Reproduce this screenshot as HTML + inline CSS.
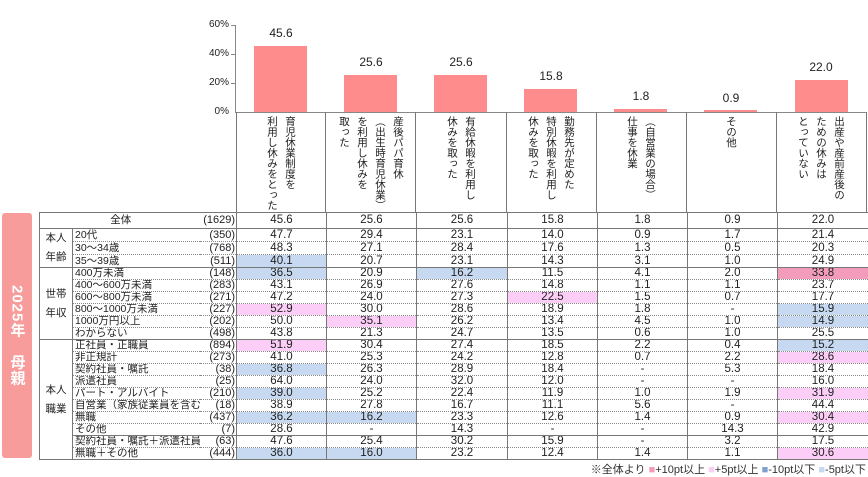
<!DOCTYPE html>
<html><head><meta charset="utf-8">
<style>
body{margin:0;width:868px;height:477px;background:#fff;position:relative;overflow:hidden;font-family:"Liberation Sans","Noto Sans CJK JP",sans-serif;color:#222}
.abs{position:absolute}
.bar{position:absolute;background:#ff8c8c;width:53px}
.val{position:absolute;width:90px;text-align:center;font-size:12px}
.yl{position:absolute;left:195px;width:34px;text-align:right;font-size:10px}
.hd{position:absolute;top:116px;height:96px;width:90px;display:flex;justify-content:center}
.hd div{writing-mode:vertical-rl;font-size:10.5px;line-height:18px;letter-spacing:0;height:96px;white-space:nowrap}
table{position:absolute;left:39px;top:212px;width:829px;height:247px;border-collapse:collapse;table-layout:fixed}
td{padding:0;font-size:11.5px;line-height:11px;border-left:1px solid #777;border-right:1px solid #777;border-top:1px dotted #888;white-space:nowrap;overflow:hidden}
td.n{text-align:center}
td.l{font-size:10.5px;padding-left:2px;border-right:none}
td.c{font-size:11px;text-align:right;border-left:none;padding-right:1px}
td.g{font-size:10.5px;text-align:center;line-height:19px;border-top:1px solid #777}
tr.s td{border-top:1px solid #777}
table{border:1px solid #777}
.p{background:#f29bbb}.q{background:#fccdf6}.b{background:#c6d9f0}
</style></head><body>
<div class="abs" style="left:235px;top:25px;width:1px;height:88px;background:#888"></div>
<div class="abs" style="left:231px;top:25px;width:4px;height:1px;background:#888"></div>
<div class="abs" style="left:231px;top:54px;width:4px;height:1px;background:#888"></div>
<div class="abs" style="left:231px;top:83px;width:4px;height:1px;background:#888"></div>
<div class="abs" style="left:235px;top:112px;width:632px;height:1px;background:#888"></div>
<div class="yl" style="top:19px">60%</div>
<div class="yl" style="top:48px">40%</div>
<div class="yl" style="top:77px">20%</div>
<div class="yl" style="top:106px">0%</div>
<div class="bar" style="left:254px;top:46px;height:66px"></div>
<div class="bar" style="left:344px;top:75px;height:37px"></div>
<div class="bar" style="left:434px;top:75px;height:37px"></div>
<div class="bar" style="left:524px;top:89px;height:23px"></div>
<div class="bar" style="left:614px;top:109px;height:3px"></div>
<div class="bar" style="left:704px;top:110px;height:2px"></div>
<div class="bar" style="left:795px;top:80px;height:32px"></div>
<div class="val" style="left:236px;top:26px">45.6</div>
<div class="val" style="left:326px;top:55px">25.6</div>
<div class="val" style="left:416px;top:55px">25.6</div>
<div class="val" style="left:506px;top:69px">15.8</div>
<div class="val" style="left:596px;top:89px">1.8</div>
<div class="val" style="left:686px;top:91px">0.9</div>
<div class="val" style="left:776px;top:60px">22.0</div>
<div class="abs" style="left:236px;top:112px;width:1px;height:100px;background:#777"></div>
<div class="abs" style="left:325px;top:112px;width:1px;height:100px;background:#777"></div>
<div class="abs" style="left:415px;top:112px;width:1px;height:100px;background:#777"></div>
<div class="abs" style="left:506px;top:112px;width:1px;height:100px;background:#777"></div>
<div class="abs" style="left:596px;top:112px;width:1px;height:100px;background:#777"></div>
<div class="abs" style="left:686px;top:112px;width:1px;height:100px;background:#777"></div>
<div class="abs" style="left:776px;top:112px;width:1px;height:100px;background:#777"></div>
<div class="abs" style="left:866px;top:112px;width:1px;height:100px;background:#777"></div>
<div class="hd" style="left:236px"><div>育児休業制度を<br>利用し休みをとった</div></div>
<div class="hd" style="left:326px"><div>産後パパ育休<br>（出生時育児休業）<br>を利用し休みを<br>取った</div></div>
<div class="hd" style="left:416px"><div>有給休暇を利用し<br>休みを取った</div></div>
<div class="hd" style="left:506px"><div>勤務先が定めた<br>特別休暇を利用し<br>休みを取った</div></div>
<div class="hd" style="left:596px"><div>（自営業の場合）<br>仕事を休業</div></div>
<div class="hd" style="left:686px"><div>その他</div></div>
<div class="hd" style="left:776px"><div>出産や産前産後の<br>ための休みは<br>とっていない</div></div>
<div class="abs" style="left:2px;top:213px;width:30px;height:245px;background:#f79b9b;border-radius:3px;display:flex;align-items:center;justify-content:center"><div style="writing-mode:vertical-rl;color:#fff;font-weight:bold;font-size:15px;letter-spacing:1px">2025年　母親</div></div>
<table>
<colgroup><col style="width:33px"><col style="width:127px"><col style="width:37px"><col style="width:90px"><col style="width:90px"><col style="width:91px"><col style="width:90px"><col style="width:90px"><col style="width:90px"><col style="width:91px"></colgroup>
<tr style="height:16px"><td colspan="2" class="l" style="text-align:center;border-left:1px solid #777">全体</td><td class="c">(1629)</td><td class="n">45.6</td><td class="n">25.6</td><td class="n">25.6</td><td class="n">15.8</td><td class="n">1.8</td><td class="n">0.9</td><td class="n">22.0</td></tr>
<tr class="s"><td class="g" rowspan="3">本人<br>年齢</td><td class="l">20代</td><td class="c">(350)</td><td class="n">47.7</td><td class="n">29.4</td><td class="n">23.1</td><td class="n">14.0</td><td class="n">0.9</td><td class="n">1.7</td><td class="n">21.4</td></tr>
<tr><td class="l">30～34歳</td><td class="c">(768)</td><td class="n">48.3</td><td class="n">27.1</td><td class="n">28.4</td><td class="n">17.6</td><td class="n">1.3</td><td class="n">0.5</td><td class="n">20.3</td></tr>
<tr><td class="l">35～39歳</td><td class="c">(511)</td><td class="n b">40.1</td><td class="n">20.7</td><td class="n">23.1</td><td class="n">14.3</td><td class="n">3.1</td><td class="n">1.0</td><td class="n">24.9</td></tr>
<tr class="s"><td class="g" rowspan="6">世帯<br>年収</td><td class="l">400万未満</td><td class="c">(148)</td><td class="n b">36.5</td><td class="n">20.9</td><td class="n b">16.2</td><td class="n">11.5</td><td class="n">4.1</td><td class="n">2.0</td><td class="n p">33.8</td></tr>
<tr><td class="l">400～600万未満</td><td class="c">(283)</td><td class="n">43.1</td><td class="n">26.9</td><td class="n">27.6</td><td class="n">14.8</td><td class="n">1.1</td><td class="n">1.1</td><td class="n">23.7</td></tr>
<tr><td class="l">600～800万未満</td><td class="c">(271)</td><td class="n">47.2</td><td class="n">24.0</td><td class="n">27.3</td><td class="n q">22.5</td><td class="n">1.5</td><td class="n">0.7</td><td class="n">17.7</td></tr>
<tr><td class="l">800～1000万未満</td><td class="c">(227)</td><td class="n q">52.9</td><td class="n">30.0</td><td class="n">28.6</td><td class="n">18.9</td><td class="n">1.8</td><td class="n">-</td><td class="n b">15.9</td></tr>
<tr><td class="l">1000万円以上</td><td class="c">(202)</td><td class="n">50.0</td><td class="n q">35.1</td><td class="n">26.2</td><td class="n">13.4</td><td class="n">4.5</td><td class="n">1.0</td><td class="n b">14.9</td></tr>
<tr><td class="l">わからない</td><td class="c">(498)</td><td class="n">43.8</td><td class="n">21.3</td><td class="n">24.7</td><td class="n">13.5</td><td class="n">0.6</td><td class="n">1.0</td><td class="n">25.5</td></tr>
<tr class="s"><td class="g" rowspan="10">本人<br>職業</td><td class="l">正社員・正職員</td><td class="c">(894)</td><td class="n q">51.9</td><td class="n">30.4</td><td class="n">27.4</td><td class="n">18.5</td><td class="n">2.2</td><td class="n">0.4</td><td class="n b">15.2</td></tr>
<tr><td class="l">非正規計</td><td class="c">(273)</td><td class="n">41.0</td><td class="n">25.3</td><td class="n">24.2</td><td class="n">12.8</td><td class="n">0.7</td><td class="n">2.2</td><td class="n q">28.6</td></tr>
<tr><td class="l">契約社員・嘱託</td><td class="c">(38)</td><td class="n b">36.8</td><td class="n">26.3</td><td class="n">28.9</td><td class="n">18.4</td><td class="n">-</td><td class="n">5.3</td><td class="n">18.4</td></tr>
<tr><td class="l">派遣社員</td><td class="c">(25)</td><td class="n">64.0</td><td class="n">24.0</td><td class="n">32.0</td><td class="n">12.0</td><td class="n">-</td><td class="n">-</td><td class="n">16.0</td></tr>
<tr><td class="l">パート・アルバイト</td><td class="c">(210)</td><td class="n b">39.0</td><td class="n">25.2</td><td class="n">22.4</td><td class="n">11.9</td><td class="n">1.0</td><td class="n">1.9</td><td class="n q">31.9</td></tr>
<tr><td class="l">自営業（家族従業員を含む）</td><td class="c">(18)</td><td class="n">38.9</td><td class="n">27.8</td><td class="n">16.7</td><td class="n">11.1</td><td class="n">5.6</td><td class="n">-</td><td class="n">44.4</td></tr>
<tr><td class="l">無職</td><td class="c">(437)</td><td class="n b">36.2</td><td class="n b">16.2</td><td class="n">23.3</td><td class="n">12.6</td><td class="n">1.4</td><td class="n">0.9</td><td class="n q">30.4</td></tr>
<tr><td class="l">その他</td><td class="c">(7)</td><td class="n">28.6</td><td class="n">-</td><td class="n">14.3</td><td class="n">-</td><td class="n">-</td><td class="n">14.3</td><td class="n">42.9</td></tr>
<tr class="s"><td class="l">契約社員・嘱託＋派遣社員</td><td class="c">(63)</td><td class="n">47.6</td><td class="n">25.4</td><td class="n">30.2</td><td class="n">15.9</td><td class="n">-</td><td class="n">3.2</td><td class="n">17.5</td></tr>
<tr><td class="l">無職＋その他</td><td class="c">(444)</td><td class="n b">36.0</td><td class="n b">16.0</td><td class="n">23.2</td><td class="n">12.4</td><td class="n">1.4</td><td class="n">1.1</td><td class="n q">30.6</td></tr>
</table>
<div class="abs" style="left:520px;top:461px;width:346px;font-size:11px;text-align:right;color:#333;white-space:nowrap">※全体より <span style="color:#f29bbb">■</span>+10pt以上 <span style="color:#fccdf6">■</span>+5pt以上 <span style="color:#7f9fd0">■</span>-10pt以下 <span style="color:#c6d9f0">■</span>-5pt以下</div>
</body></html>
